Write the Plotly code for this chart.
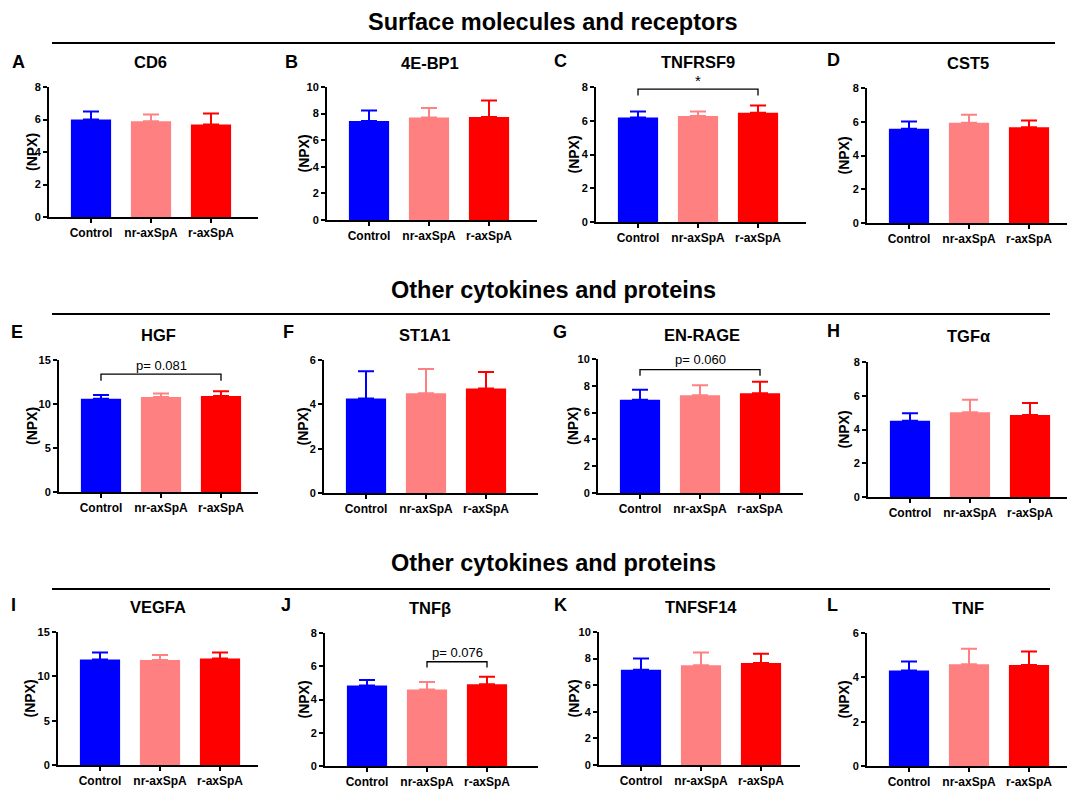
import plotly.graph_objects as go

# ---------------- data ----------------
groups = ["Control", "nr-axSpA", "r-axSpA"]
colors = ["#0000FF", "#FF8080", "#FF0000"]

letters = ["A", "B", "C", "D", "E", "F", "G", "H", "I", "J", "K", "L"]
titles = ["CD6", "4E-BP1", "TNFRSF9", "CST5", "HGF", "ST1A1", "EN-RAGE", "TGFα",
          "VEGFA", "TNFβ", "TNFSF14", "TNF"]
sections = ["Surface molecules and receptors", "Other cytokines and proteins",
            "Other cytokines and proteins"]

cd6_mean = [6.0, 5.9, 5.7];        cd6_sd = [0.5, 0.4, 0.67]
ebp1_mean = [7.45, 7.7, 7.75];     ebp1_sd = [0.78, 0.72, 1.23]
tnfrsf9_mean = [6.2, 6.28, 6.47];  tnfrsf9_sd = [0.35, 0.27, 0.44]
cst5_mean = [5.58, 5.94, 5.68];    cst5_sd = [0.44, 0.48, 0.40]
hgf_mean = [10.6, 10.8, 10.9];     hgf_sd = [0.42, 0.4, 0.54]
st1a1_mean = [4.26, 4.5, 4.71];    st1a1_sd = [1.23, 1.09, 0.75]
enrage_mean = [6.95, 7.3, 7.45];   enrage_sd = [0.75, 0.75, 0.85]
tgfa_mean = [4.52, 5.02, 4.86];    tgfa_sd = [0.44, 0.75, 0.71]
vegfa_mean = [11.9, 11.85, 12.0];  vegfa_sd = [0.8, 0.55, 0.7]
tnfb_mean = [4.84, 4.6, 4.92];     tnfb_sd = [0.34, 0.46, 0.45]
tnfsf14_mean = [7.17, 7.5, 7.67];  tnfsf14_sd = [0.83, 0.95, 0.7]
tnf_mean = [4.31, 4.59, 4.56];     tnf_sd = [0.4, 0.7, 0.61]

means = [cd6_mean, ebp1_mean, tnfrsf9_mean, cst5_mean, hgf_mean, st1a1_mean,
         enrage_mean, tgfa_mean, vegfa_mean, tnfb_mean, tnfsf14_mean, tnf_mean]
sds = [cd6_sd, ebp1_sd, tnfrsf9_sd, cst5_sd, hgf_sd, st1a1_sd,
       enrage_sd, tgfa_sd, vegfa_sd, tnfb_sd, tnfsf14_sd, tnf_sd]

y_max = [8, 10, 8, 8, 15, 6, 10, 8, 15, 8, 10, 6]
y_step = [2, 2, 2, 2, 5, 2, 2, 2, 5, 2, 2, 2]

# significance brackets: panel, from group, to group, top, leg bottom, label, label height
bracket_panel = [2, 4, 6, 9]
bracket_from = [0, 0, 0, 1]
bracket_to = [2, 2, 2, 2]
bracket_top = [7.88, 13.4, 9.2, 6.27]
bracket_leg = [7.49, 12.65, 8.75, 5.92]
bracket_label = ["*", "p= 0.081", "p= 0.060", "p= 0.076"]
bracket_label_y = [8.4, 14.4, 9.95, 6.8]

# ---------------- layout geometry (pixels) ----------------
W, H = 1067, 789
def px(x): return x / W
def py(y): return 1 - y / H

# left, right, top, bottom of each plot area
panel_box = [
    (49, 258, 87, 217), (327, 537, 87, 220), (596, 806, 87, 222), (867, 1067, 88, 223),
    (59, 258, 360, 492), (324, 538, 360, 493), (598, 803, 359, 493), (868, 1067, 362, 497),
    (58, 258, 632, 765), (325, 538, 633, 766), (599, 800, 632, 765), (867, 1067, 633, 766),
]
npx_x = [32, 303, 573, 843, 32, 302, 573, 843, 29, 303, 573, 843]
letter_pos = [(18, 62), (291, 62), (560, 61), (833, 60),
              (17, 332), (288, 332), (560, 332), (833, 331),
              (13, 605), (286, 605), (560, 605), (832, 605)]
title_pos = [(150, 62), (430, 63), (698, 62), (968, 63),
             (158, 335), (424, 335), (702, 335), (968, 336),
             (158, 607), (430, 608), (701, 607), (968, 608)]
section_y = [22, 290, 563]
section_line = [(52, 1055, 43), (52, 1050, 314), (52, 1050, 589)]

FONT = "Liberation Sans, Arial, sans-serif"
SPACING = 60.0
LO = -0.7

fig = go.Figure()
layout = dict(
    width=W, height=H, autosize=False,
    margin=dict(l=0, r=0, t=0, b=0, pad=0, autoexpand=False),
    paper_bgcolor="white", plot_bgcolor="white", showlegend=False,
    barmode="overlay", font=dict(family=FONT, color="black"),
)
annotations = []
shapes = []

for p in range(12):
    sfx = "" if p == 0 else str(p + 1)
    xa, ya = "x" + sfx, "y" + sfx
    left, right, top, bottom = panel_box[p]
    hi = (right - left) / SPACING + LO
    layout["xaxis" + sfx] = dict(
        domain=[px(left), px(right)], anchor=ya, type="category",
        categoryorder="array", categoryarray=groups, automargin=False,
        range=[LO, hi], showline=True, linewidth=2, linecolor="black",
        ticks="outside", ticklen=4, tickwidth=1.5, tickcolor="black",
        showgrid=False, zeroline=False,
        tickfont=dict(family=FONT, size=12, color="black", weight="bold"),
    )
    layout["yaxis" + sfx] = dict(
        domain=[py(bottom), py(top)], anchor=xa, range=[0, y_max[p]], automargin=False,
        dtick=y_step[p], tick0=0, showline=True, linewidth=2, linecolor="black",
        ticks="outside", ticklen=4, tickwidth=2, tickcolor="black",
        showgrid=False, zeroline=False,
        tickfont=dict(family=FONT, size=11, color="black", weight="bold"),
    )
    for g in range(3):
        fig.add_trace(go.Bar(
            x=[groups[g]], y=[means[p][g]], xaxis=xa, yaxis=ya, width=0.67,
            marker=dict(color=colors[g], line=dict(width=0)),
            error_y=dict(type="data", array=[sds[p][g]], arrayminus=[0],
                         symmetric=False, color=colors[g], thickness=2, width=8),
            hoverinfo="skip",
        ))
    lx, ly = letter_pos[p]
    annotations.append(dict(text="<b>%s</b>" % letters[p], x=px(lx), y=py(ly),
                            xref="paper", yref="paper", showarrow=False,
                            font=dict(size=18, family=FONT), xanchor="center", yanchor="middle"))
    tx, ty = title_pos[p]
    annotations.append(dict(text="<b>%s</b>" % titles[p], x=px(tx), y=py(ty),
                            xref="paper", yref="paper", showarrow=False,
                            font=dict(size=16.5, family=FONT), xanchor="center", yanchor="middle"))
    annotations.append(dict(text="<b>(NPX)</b>", x=px(npx_x[p]), y=py((top + bottom) / 2),
                            xref="paper", yref="paper", showarrow=False, textangle=-90,
                            font=dict(size=14, family=FONT), xanchor="center", yanchor="middle"))

# brackets
for b in range(len(bracket_panel)):
    p = bracket_panel[b]
    sfx = "" if p == 0 else str(p + 1)
    g0, g1 = groups[bracket_from[b]], groups[bracket_to[b]]
    fig.add_trace(go.Scatter(
        x=[g0, g0, g1, g1],
        y=[bracket_leg[b], bracket_top[b], bracket_top[b], bracket_leg[b]],
        xaxis="x" + sfx, yaxis="y" + sfx, mode="lines", cliponaxis=False,
        line=dict(color="black", width=1.3), hoverinfo="skip",
    ))
    annotations.append(dict(text=bracket_label[b],
                            x=(bracket_from[b] + bracket_to[b]) / 2,
                            y=bracket_label_y[b] / y_max[p],
                            xref="x" + sfx, yref="y" + sfx + " domain", showarrow=False,
                            font=dict(size=13 if bracket_label[b] != "*" else 15, family=FONT),
                            xanchor="center", yanchor="middle"))

# section headings
for s in range(3):
    annotations.append(dict(text="<b>%s</b>" % sections[s], x=px(553), y=py(section_y[s]),
                            xref="paper", yref="paper", showarrow=False,
                            font=dict(size=23.5, family=FONT), xanchor="center", yanchor="middle"))
    x0, x1, yl = section_line[s]
    shapes.append(dict(type="line", xref="paper", yref="paper",
                       x0=px(x0), x1=px(x1), y0=py(yl), y1=py(yl),
                       line=dict(color="black", width=2)))

layout["annotations"] = annotations
layout["shapes"] = shapes
fig.update_layout(**layout)
fig.write_html("out.html")
